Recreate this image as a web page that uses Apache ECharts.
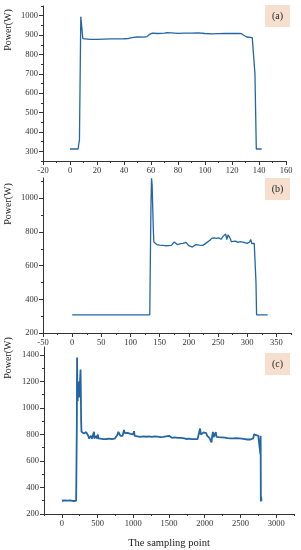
<!DOCTYPE html>
<html>
<head>
<meta charset="utf-8">
<script src="https://cdn.jsdelivr.net/npm/echarts@6/dist/echarts.min.js"></script>
<style>html,body{margin:0;padding:0;background:#fff}#c{width:301px;height:550px}</style>
</head>
<body>
<div id="c"></div>
<script>
// ---- data: [sampling point, power (W)] ----
const seriesA = [[0,312],[2,312],[4,312],[6,312],[7,360],[8,995],[9.5,882],[10,878],[15,878],[20,878],[25,879],[30,880],[35,880],[40,881],[43,882],[45,886],[47,888],[50,890],[55,889],[57,892],[59,904],[61,910],[65,908],[70,910],[72,912],[75,911],[80,909],[85,910],[90,910],[95,911],[100,908],[105,906],[110,907],[115,908],[120,908],[125,908],[127,907],[129,898],[131,890],[135,887],[136,886],[137,700],[138,312],[140,312],[142,312]];

const seriesB = [[0,308],[20,307],[40,308],[60,307],[80,308],[100,308],[120,308],[133,308],[134,650],[135,950],[136,1118],[137,1080],[138,950],[139,820],[140,740],[142,730],[145,725],[150,722],[160,718],[170,720],[173,728],[175,740],[177,735],[180,725],[183,722],[186,730],[188,724],[190,732],[192,726],[195,738],[197,730],[200,718],[203,712],[206,710],[209,718],[212,725],[215,732],[218,722],[221,715],[224,720],[227,718],[230,735],[233,742],[236,750],[239,762],[241,772],[243,765],[245,776],[247,762],[249,770],[251,765],[253,760],[255,756],[257,766],[259,775],[261,785],[263,787],[265,755],[267,782],[269,778],[271,760],[273,742],[276,740],[280,745],[284,738],[288,742],[291,745],[294,738],[297,735],[300,732],[302,728],[304,740],[306,755],[308,730],[310,728],[312,732],[313,725],[314,728],[315,500],[316,308],[320,308],[325,308],[330,307],[335,308]];

const seriesC = [[0,300],[20,298],[40,302],[60,296],[80,301],[100,299],[120,303],[140,300],[160,298],[180,302],[200,300],[205,305],[210,900],[213,1380],[218,1100],[222,1050],[226,1180],[232,1120],[238,1200],[244,1080],[250,1150],[256,1220],[262,1290],[266,1100],[270,900],[275,820],[282,810],[290,805],[300,815],[310,808],[320,820],[330,812],[340,818],[350,805],[360,810],[370,790],[380,770],[390,785],[400,775],[410,790],[420,768],[430,780],[440,775],[450,820],[455,770],[465,780],[475,772],[485,790],[495,768],[505,800],[510,770],[520,775],[540,768],[560,772],[580,765],[600,770],[620,766],[640,772],[660,768],[680,770],[700,765],[720,772],[740,768],[760,775],[780,800],[790,820],[800,830],[810,815],[820,790],[830,800],[840,785],[850,790],[860,805],[870,835],[880,810],[890,825],[900,805],[920,812],[940,800],[960,805],[980,795],[1000,800],[1010,825],[1020,790],[1040,792],[1060,785],[1080,790],[1100,782],[1120,788],[1140,785],[1160,790],[1180,783],[1200,795],[1220,785],[1240,788],[1260,782],[1280,792],[1300,786],[1320,790],[1340,783],[1360,788],[1380,780],[1400,785],[1420,782],[1440,780],[1460,786],[1480,775],[1500,790],[1520,778],[1540,775],[1560,770],[1580,778],[1600,772],[1620,775],[1640,770],[1660,774],[1680,768],[1700,772],[1720,770],[1740,766],[1760,772],[1780,768],[1800,770],[1820,765],[1840,768],[1860,765],[1880,770],[1900,765],[1920,768],[1935,845],[1945,800],[1955,810],[1970,805],[1985,815],[2000,825],[2010,800],[2020,810],[2035,790],[2050,785],[2065,775],[2080,760],[2095,740],[2105,790],[2115,820],[2125,780],[2135,790],[2145,775],[2155,818],[2165,782],[2180,790],[2200,780],[2220,785],[2240,778],[2260,782],[2280,776],[2300,780],[2320,772],[2340,778],[2360,770],[2380,775],[2400,770],[2420,766],[2440,772],[2460,765],[2480,770],[2500,762],[2520,768],[2540,760],[2560,765],[2580,758],[2600,762],[2620,758],[2640,762],[2660,755],[2680,770],[2690,800],[2700,815],[2710,810],[2720,795],[2735,800],[2750,790],[2760,795],[2770,785],[2775,790],[2780,650],[2783,790],[2786,295],[2790,330],[2795,300],[2800,302]];

// ---- tick labels / tick positions ----
const xTicksA = [-20,0,20,40,60,80,100,120,140,160];
const xMinorA = [-10,10,30,50,70,90,110,130,150];
const yTicksA = [300,400,500,600,700,800,900,1000];
const yMinorA = [250,350,450,550,650,750,850,950,1050];
const xTicksB = [-50,0,50,100,150,200,250,300,350];
const xMinorB = [-25,25,75,125,175,225,275,325,375];
const yTicksB = [200,400,600,800,1000];
const yMinorB = [300,500,700,900,1100];
const xTicksC = [0,500,1000,1500,2000,2500,3000];
const xMinorC = [-250,250,750,1250,1750,2250,2750,3250];
const yTicksC = [200,400,600,800,1000,1200,1400];
const yMinorC = [300,500,700,900,1100,1300];
const panelLabels = ['(a)','(b)','(c)'];
const yName = 'Power(W)';
const xName = 'The sampling point';

const FONT = '"Liberation Serif","Times New Roman",serif';
const AX = '#333';
const LINE = '#2466a4';

function axisPair(gi, pos, min, max, majors, minors, extra) {
  const major = Object.assign({
    type: 'value', gridIndex: gi, position: pos, min: min, max: max,
    splitLine: { show: false },
    axisLine: { show: true, onZero: false, lineStyle: { color: AX, width: 1 } },
    axisTick: { show: true, inside: false, length: 4, customValues: majors, lineStyle: { color: AX } },
    axisLabel: { customValues: majors, formatter: v => String(v), fontFamily: FONT, fontSize: 8.5, color: '#333', margin: 5 }
  }, extra || {});
  const minor = {
    type: 'value', gridIndex: gi, position: pos, min: min, max: max,
    splitLine: { show: false },
    axisLine: { show: false, onZero: false },
    axisTick: { show: true, inside: false, length: 2, customValues: minors, lineStyle: { color: AX } },
    axisLabel: { show: false }
  };
  return [major, minor];
}

const grids = [
  { left: 43, right: 15, top: 6, height: 155 },
  { left: 43, right: 10, top: 178, height: 155 },
  { left: 44, right: 7, top: 347, height: 170 }
];

const xAxes = [].concat(
  axisPair(0, 'bottom', -20, 160, xTicksA, xMinorA),
  axisPair(1, 'bottom', -50, 375, xTicksB, xMinorB),
  axisPair(2, 'bottom', -250, 3250, xTicksC, xMinorC, {
    name: xName, nameLocation: 'middle', nameGap: 24,
    nameTextStyle: { fontFamily: FONT, fontSize: 10.5, color: '#222' }
  })
);
const yAxes = [].concat(
  axisPair(0, 'left', 250, 1050, yTicksA, yMinorA),
  axisPair(1, 'left', 200, 1120, yTicksB, yMinorB),
  axisPair(2, 'left', 200, 1460, yTicksC, yMinorC)
);

const allData = [seriesA, seriesB, seriesC];
const widths = [1.3, 1.3, 1.8];
const series = allData.map((d, i) => ({
  type: 'line', xAxisIndex: i * 2, yAxisIndex: i * 2, data: d,
  showSymbol: false, symbol: 'none', lineStyle: { color: LINE, width: widths[i] },
  animation: false
}));

const boxTops = [5, 178, 353];
const nameCenters = [30, 204, 358];
const graphics = [];
panelLabels.forEach((t, i) => {
  graphics.push({
    type: 'rect', left: 265, top: boxTops[i], shape: { width: 25, height: 22 },
    style: { fill: '#f7dfcf' }, z: 10
  });
  graphics.push({
    type: 'text', x: 277.5, y: boxTops[i] + 11, z: 11,
    style: { text: t, fontFamily: FONT, fontSize: 10, fill: '#222', align: 'center', verticalAlign: 'middle' }
  });
  graphics.push({
    type: 'text', x: 8, y: nameCenters[i], rotation: Math.PI / 2, z: 11,
    style: { text: yName, fontFamily: FONT, fontSize: 10, fill: '#222', align: 'center', verticalAlign: 'middle' }
  });
});

const chart = echarts.init(document.getElementById('c'), null, { renderer: 'canvas' });
chart.setOption({
  animation: false,
  backgroundColor: '#fff',
  grid: grids,
  xAxis: xAxes,
  yAxis: yAxes,
  series: series,
  graphic: graphics
});
</script>
</body>
</html>
